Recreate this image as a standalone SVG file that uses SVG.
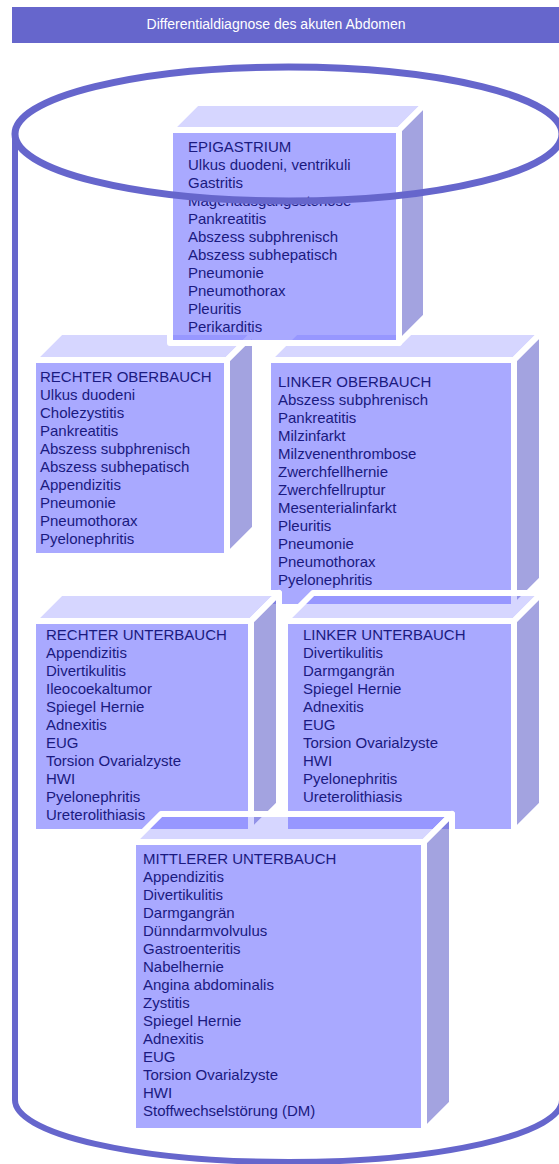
<svg xmlns="http://www.w3.org/2000/svg" width="559" height="1164" viewBox="0 0 559 1164">
<style>
.bg{fill:#ffffff}
.cyl{fill:none;stroke:#6666cc;stroke-width:6}
.rim{fill:none;stroke:#6666cc;stroke-width:7}
.top{fill:#6666ff;fill-opacity:0.27;stroke:#ffffff;stroke-width:6;stroke-linejoin:round}
.side{fill:#6666cc;fill-opacity:0.6;stroke:#ffffff;stroke-width:6;stroke-linejoin:round}
.front{fill:#6666ff;fill-opacity:0.56;stroke:#ffffff;stroke-width:6;stroke-linejoin:round}
.txt{font-family:"Liberation Sans",Arial,sans-serif;font-size:15px;fill:#1a1a80}
.title{font-family:"Liberation Sans",Arial,sans-serif;font-size:14px;fill:#ffffff}
</style>
<rect class="bg" x="0" y="0" width="559" height="1164"/>
<g id="title">
<rect x="12" y="7" width="550" height="36" fill="#6666cc"/>
<text class="title" x="276" y="29" text-anchor="middle">Differentialdiagnose des akuten Abdomen</text>
</g>
<g id="cylinder-body">
<path class="cyl" d="M15,133 V1100 A273.5,62 0 0 0 562,1100 V133"/>
</g>
<g id="connectors"/>
<g id="rechter-oberbauch">
<path class="top" d="M33,360 L61,332 L255,332 L227,360 Z"/>
<path class="side" d="M227,360 L255,332 L255,528 L227,556 Z"/>
<rect class="front" x="33" y="360" width="194" height="196"/>
<text class="txt" x="40" y="382"><tspan x="40">RECHTER OBERBAUCH</tspan><tspan x="40" dy="18">Ulkus duodeni</tspan><tspan x="40" dy="18">Cholezystitis</tspan><tspan x="40" dy="18">Pankreatitis</tspan><tspan x="40" dy="18">Abszess subphrenisch</tspan><tspan x="40" dy="18">Abszess subhepatisch</tspan><tspan x="40" dy="18">Appendizitis</tspan><tspan x="40" dy="18">Pneumonie</tspan><tspan x="40" dy="18">Pneumothorax</tspan><tspan x="40" dy="18">Pyelonephritis</tspan></text>
</g>
<g id="linker-oberbauch">
<path class="top" d="M268,360 L296,332 L542,332 L514,360 Z"/>
<path class="side" d="M514,360 L542,332 L542,579 L514,607 Z"/>
<rect class="front" x="268" y="360" width="246" height="247"/>
<text class="txt" x="278" y="387"><tspan x="278">LINKER OBERBAUCH</tspan><tspan x="278" dy="18">Abszess subphrenisch</tspan><tspan x="278" dy="18">Pankreatitis</tspan><tspan x="278" dy="18">Milzinfarkt</tspan><tspan x="278" dy="18">Milzvenenthrombose</tspan><tspan x="278" dy="18">Zwerchfellhernie</tspan><tspan x="278" dy="18">Zwerchfellruptur</tspan><tspan x="278" dy="18">Mesenterialinfarkt</tspan><tspan x="278" dy="18">Pleuritis</tspan><tspan x="278" dy="18">Pneumonie</tspan><tspan x="278" dy="18">Pneumothorax</tspan><tspan x="278" dy="18">Pyelonephritis</tspan></text>
</g>
<g id="epigastrium">
<path class="top" d="M170,130 L197,103 L426,103 L399,130 Z"/>
<path class="side" d="M399,130 L426,103 L426,316 L399,343 Z"/>
<rect class="front" x="170" y="130" width="229" height="213"/>
<text class="txt" x="188" y="152"><tspan x="188">EPIGASTRIUM</tspan><tspan x="188" dy="18">Ulkus duodeni, ventrikuli</tspan><tspan x="188" dy="18">Gastritis</tspan><tspan x="188" dy="18">Magenausgangsstenose</tspan><tspan x="188" dy="18">Pankreatitis</tspan><tspan x="188" dy="18">Abszess subphrenisch</tspan><tspan x="188" dy="18">Abszess subhepatisch</tspan><tspan x="188" dy="18">Pneumonie</tspan><tspan x="188" dy="18">Pneumothorax</tspan><tspan x="188" dy="18">Pleuritis</tspan><tspan x="188" dy="18">Perikarditis</tspan></text>
</g>
<g id="rechter-unterbauch">
<path class="top" d="M33,621 L61,593 L279,593 L251,621 Z"/>
<path class="side" d="M251,621 L279,593 L279,804 L251,832 Z"/>
<rect class="front" x="33" y="621" width="218" height="211"/>
<text class="txt" x="46" y="640"><tspan x="46">RECHTER UNTERBAUCH</tspan><tspan x="46" dy="18">Appendizitis</tspan><tspan x="46" dy="18">Divertikulitis</tspan><tspan x="46" dy="18">Ileocoekaltumor</tspan><tspan x="46" dy="18">Spiegel Hernie</tspan><tspan x="46" dy="18">Adnexitis</tspan><tspan x="46" dy="18">EUG</tspan><tspan x="46" dy="18">Torsion Ovarialzyste</tspan><tspan x="46" dy="18">HWI</tspan><tspan x="46" dy="18">Pyelonephritis</tspan><tspan x="46" dy="18">Ureterolithiasis</tspan></text>
</g>
<g id="linker-unterbauch">
<path class="top" d="M285,621 L313,593 L542,593 L514,621 Z"/>
<path class="side" d="M514,621 L542,593 L542,804 L514,832 Z"/>
<rect class="front" x="285" y="621" width="229" height="211"/>
<text class="txt" x="303" y="640"><tspan x="303">LINKER UNTERBAUCH</tspan><tspan x="303" dy="18">Divertikulitis</tspan><tspan x="303" dy="18">Darmgangrän</tspan><tspan x="303" dy="18">Spiegel Hernie</tspan><tspan x="303" dy="18">Adnexitis</tspan><tspan x="303" dy="18">EUG</tspan><tspan x="303" dy="18">Torsion Ovarialzyste</tspan><tspan x="303" dy="18">HWI</tspan><tspan x="303" dy="18">Pyelonephritis</tspan><tspan x="303" dy="18">Ureterolithiasis</tspan></text>
</g>
<g id="mittlerer-unterbauch">
<path class="top" d="M133,842 L161,814 L452,814 L424,842 Z"/>
<path class="side" d="M424,842 L452,814 L452,1103 L424,1131 Z"/>
<rect class="front" x="133" y="842" width="291" height="289"/>
<text class="txt" x="143" y="864"><tspan x="143">MITTLERER UNTERBAUCH</tspan><tspan x="143" dy="18">Appendizitis</tspan><tspan x="143" dy="18">Divertikulitis</tspan><tspan x="143" dy="18">Darmgangrän</tspan><tspan x="143" dy="18">Dünndarmvolvulus</tspan><tspan x="143" dy="18">Gastroenteritis</tspan><tspan x="143" dy="18">Nabelhernie</tspan><tspan x="143" dy="18">Angina abdominalis</tspan><tspan x="143" dy="18">Zystitis</tspan><tspan x="143" dy="18">Spiegel Hernie</tspan><tspan x="143" dy="18">Adnexitis</tspan><tspan x="143" dy="18">EUG</tspan><tspan x="143" dy="18">Torsion Ovarialzyste</tspan><tspan x="143" dy="18">HWI</tspan><tspan x="143" dy="18">Stoffwechselstörung (DM)</tspan></text>
</g>
<g id="cylinder-top">
<ellipse class="rim" cx="288.5" cy="134" rx="273.5" ry="67"/>
</g>
</svg>
